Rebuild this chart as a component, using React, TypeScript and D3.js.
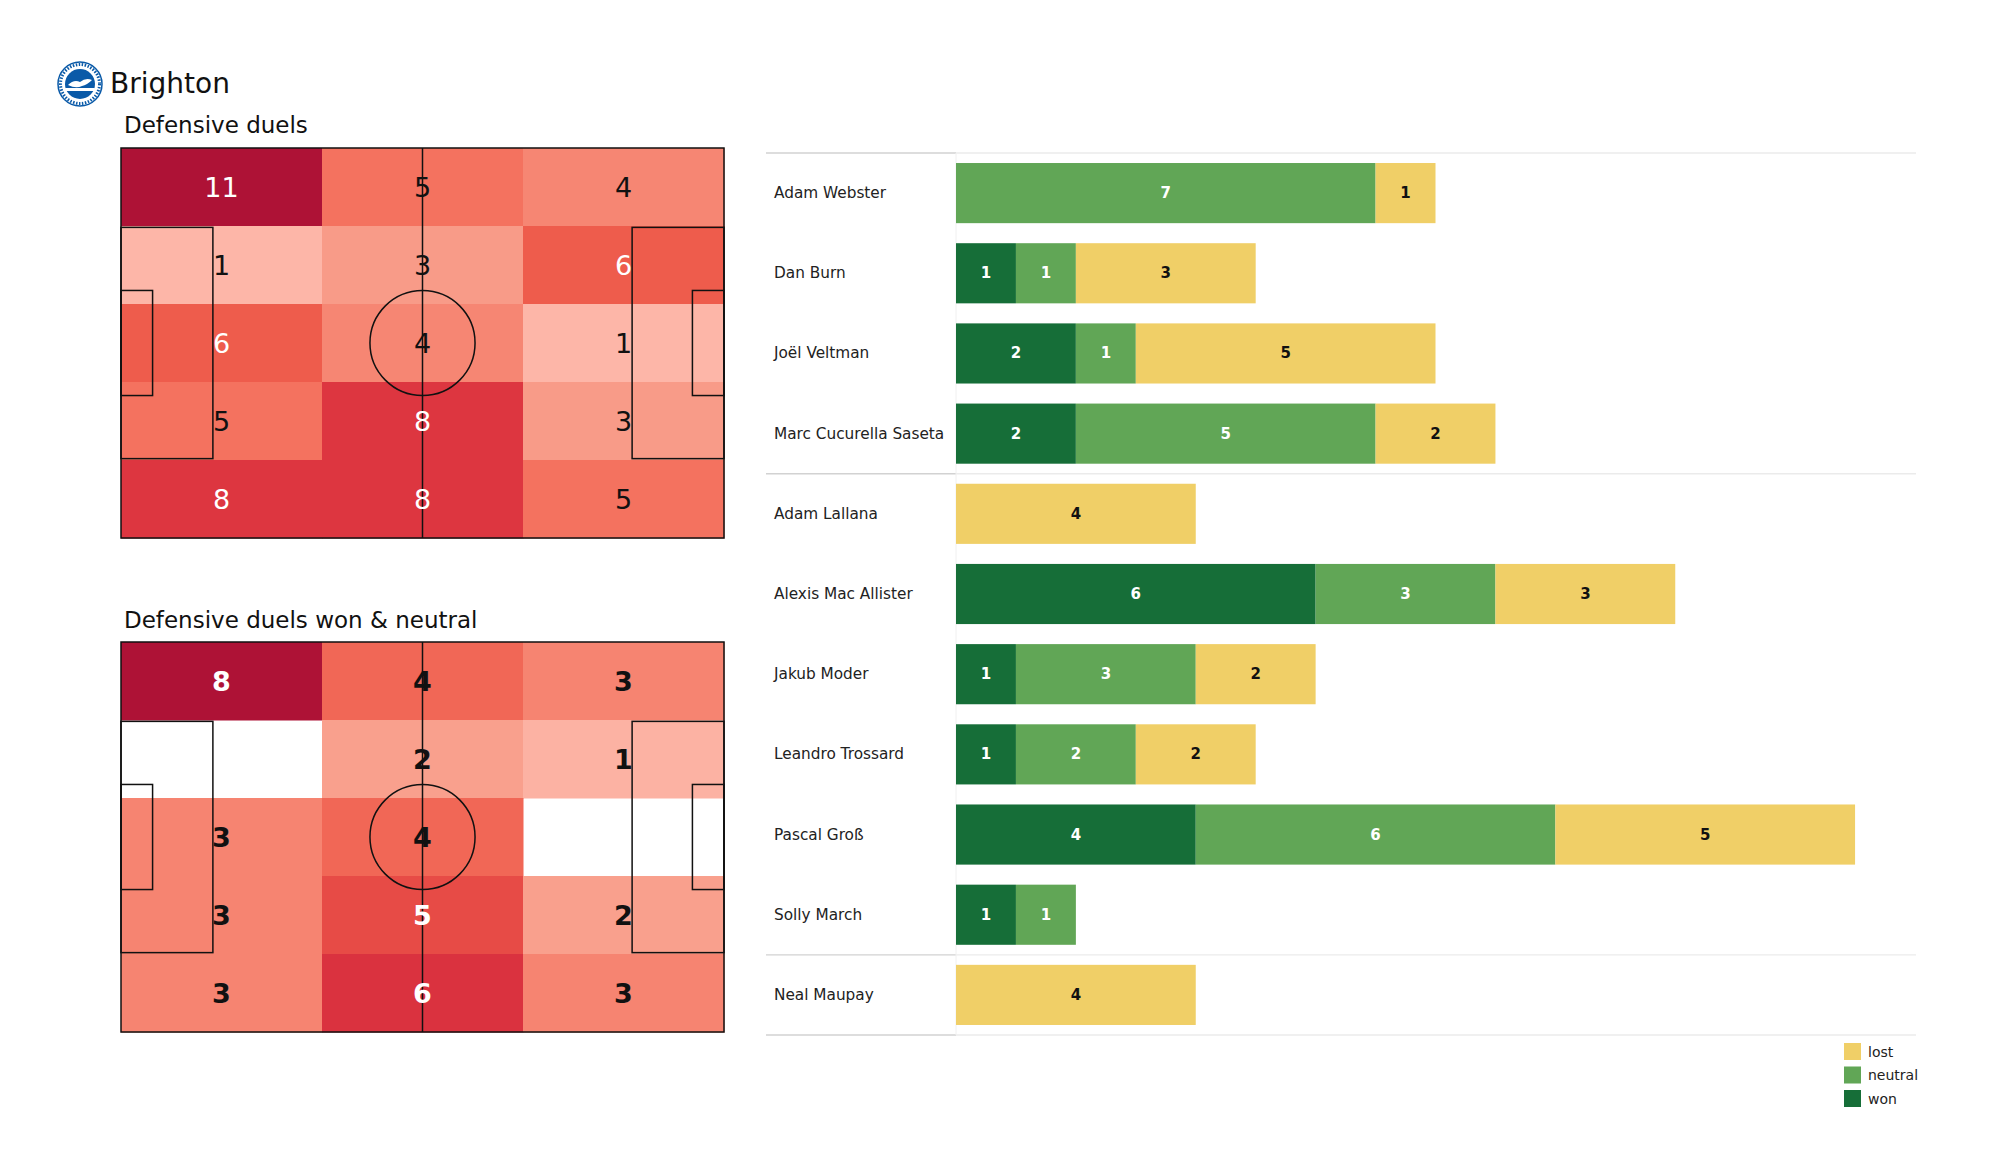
import * as d3 from 'd3';

// heatmap counts, rows top -> bottom, cols left -> right
const duelsGrid = [
  [11, 5, 4],
  [1, 3, 6],
  [6, 4, 1],
  [5, 8, 3],
  [8, 8, 5],
];
const wonNeutralGrid = [
  [8, 4, 3],
  [0, 2, 1],
  [3, 4, 0],
  [3, 5, 2],
  [3, 6, 3],
];

const players = [
  'Adam Webster',
  'Dan Burn',
  'Joël Veltman',
  'Marc Cucurella Saseta',
  'Adam Lallana',
  'Alexis Mac Allister',
  'Jakub Moder',
  'Leandro Trossard',
  'Pascal Groß',
  'Solly March',
  'Neal Maupay',
];
const won = [0, 1, 2, 2, 0, 6, 1, 1, 4, 1, 0];
const neutral = [7, 1, 1, 5, 0, 3, 3, 2, 6, 1, 0];
const lost = [1, 3, 5, 2, 4, 3, 2, 2, 5, 0, 4];
// index after which a group separator is drawn
const groupBreaks = [3, 9];

const series = ['won', 'neutral', 'lost'];
const legendOrder = ['lost', 'neutral', 'won'];

const FONT = '"DejaVu Sans", sans-serif';
const seriesColor: Record<string, string> = {
  won: '#166e38',
  neutral: '#61a656',
  lost: '#f0cf67',
};

const heatColor = d3
  .scaleLinear<string>()
  .domain([0, 0.25, 0.45, 0.55, 0.73, 1])
  .range(['#ffc3b8', '#f9a08d', '#f47360', '#ee5b4b', '#dd3540', '#ae1236'])
  .clamp(true);

const Pitch = ({ grid, top, bold }: { grid: number[][]; top: number; bold: boolean }) => {
  const x = d3.scaleLinear().domain([0, 105]).range([121, 724]);
  const y = d3.scaleLinear().domain([0, 68]).range([top, top + 390]);
  const col = d3.scaleBand<number>().domain([0, 1, 2]).range([121, 724]);
  const row = d3.scaleBand<number>().domain([0, 1, 2, 3, 4]).range([top, top + 390]);
  const max = d3.max(grid.flat()) || 1;
  const line = { fill: 'none', stroke: '#111', strokeWidth: 1.5 };
  const boxDepth = 16;

  return (
    <g>
      {grid.map((r, ri) =>
        r.map((v, ci) =>
          v > 0 ? (
            <rect
              key={`c${ri}-${ci}`}
              x={col(ci)}
              y={row(ri)}
              width={col.bandwidth() + 0.5}
              height={row.bandwidth() + 0.5}
              fill={heatColor(v / max)}
            />
          ) : null
        )
      )}
      {/* pitch markings */}
      <rect x={x(0)} y={y(0)} width={x(105) - x(0)} height={y(68) - y(0)} {...line} />
      <line x1={x(52.5)} x2={x(52.5)} y1={y(0)} y2={y(68)} {...line} />
      <ellipse cx={x(52.5)} cy={y(34)} rx={x(9.15) - x(0)} ry={y(9.15) - y(0)} {...line} />
      <rect x={x(0)} y={y(34 - 20.16)} width={x(boxDepth) - x(0)} height={y(40.32) - y(0)} {...line} />
      <rect x={x(105 - boxDepth)} y={y(34 - 20.16)} width={x(boxDepth) - x(0)} height={y(40.32) - y(0)} {...line} />
      <rect x={x(0)} y={y(34 - 9.16)} width={x(5.5) - x(0)} height={y(18.32) - y(0)} {...line} />
      <rect x={x(105 - 5.5)} y={y(34 - 9.16)} width={x(5.5) - x(0)} height={y(18.32) - y(0)} {...line} />
      {grid.map((r, ri) =>
        r.map((v, ci) =>
          v > 0 ? (
            <text
              key={`t${ri}-${ci}`}
              x={(col(ci) || 0) + col.bandwidth() / 2}
              y={(row(ri) || 0) + row.bandwidth() / 2}
              textAnchor="middle"
              dominantBaseline="central"
              fontFamily={FONT}
              fontSize={27}
              fontWeight={bold ? 'bold' : 'normal'}
              fill={v / max > 0.5 ? '#fff' : '#111'}
            >
              {v}
            </text>
          ) : null
        )
      )}
    </g>
  );
};

const BarChart = () => {
  const x = d3.scaleLinear().domain([0, 16]).range([956, 1915]);
  const yBand = d3
    .scaleBand<string>()
    .domain(players)
    .range([153, 1035])
    .paddingInner(0.25)
    .paddingOuter(0.125);
  const rows = players.map((p, i) => ({ player: p, won: won[i], neutral: neutral[i], lost: lost[i] }));
  const stacked = d3.stack<any>().keys(series)(rows);
  const step = yBand.step();
  const sepY = [153, ...groupBreaks.map((b) => 153 + (b + 1) * step), 1035];

  return (
    <g>
      {sepY.map((sy, i) => (
        <g key={`sep${i}`}>
          <line x1={766} x2={956} y1={sy} y2={sy} stroke="#d2d2d2" strokeWidth={1.3} />
          <line x1={956} x2={1916} y1={sy} y2={sy} stroke="#ebebeb" strokeWidth={1.3} />
        </g>
      ))}
      <line x1={956} x2={956} y1={153} y2={1035} stroke="#f0f0f0" strokeWidth={1} />
      {stacked.map((s) => (
        <g key={s.key}>
          {s.map((d, i) => {
            const v = d[1] - d[0];
            if (v <= 0) return null;
            const y0 = yBand(players[i]) || 0;
            return (
              <g key={i}>
                <rect
                  x={x(d[0])}
                  y={y0}
                  width={x(d[1]) - x(d[0])}
                  height={yBand.bandwidth()}
                  fill={seriesColor[s.key]}
                />
                <text
                  x={(x(d[0]) + x(d[1])) / 2}
                  y={y0 + yBand.bandwidth() / 2}
                  textAnchor="middle"
                  dominantBaseline="central"
                  fontFamily={FONT}
                  fontSize={15}
                  fontWeight="bold"
                  fill={s.key === 'lost' ? '#111' : '#fff'}
                >
                  {v}
                </text>
              </g>
            );
          })}
        </g>
      ))}
      {players.map((p) => (
        <text
          key={p}
          x={774}
          y={(yBand(p) || 0) + yBand.bandwidth() / 2}
          dominantBaseline="central"
          fontFamily={FONT}
          fontSize={15.3}
          fill="#222"
        >
          {p}
        </text>
      ))}
      {legendOrder.map((k, i) => (
        <g key={k} transform={`translate(1844,${1043 + i * 23.5})`}>
          <rect width={17} height={17} fill={seriesColor[k]} />
          <text x={24} y={8.5} dominantBaseline="central" fontFamily={FONT} fontSize={14} fill="#222">
            {k}
          </text>
        </g>
      ))}
    </g>
  );
};

const Crest = () => (
  <g transform="translate(80,84)">
    <circle r={22} fill="#fff" stroke="#0a5aa8" strokeWidth={1.5} />
    <circle r={19.5} fill="none" stroke="#0a5aa8" strokeWidth={3} strokeDasharray="1.5 1.5" />
    <circle r={15} fill="#0a5aa8" />
    <path d="M-12,1 Q-6,-5 0,-2 Q6,-7 12,-4 Q7,1 2,2 Q-4,5 -12,1 Z" fill="#fff" />
    <path d="M-15,4 L15,4 L14,7 L-14,7 Z" fill="#fff" />
  </g>
);

export default function App() {
  return (
    <div style={{ position: 'absolute', left: 0, top: 0 }}>
      <svg width={2000} height={1175} style={{ display: 'block', background: '#fff' }}>
        <Crest />
        <text x={110} y={93} fontFamily={FONT} fontSize={28} fill="#111">
          Brighton
        </text>
        <text x={124} y={133} fontFamily={FONT} fontSize={23} fill="#111">
          Defensive duels
        </text>
        <Pitch grid={duelsGrid} top={148} bold={false} />
        <text x={124} y={628} fontFamily={FONT} fontSize={23} fill="#111">
          Defensive duels won &amp; neutral
        </text>
        <Pitch grid={wonNeutralGrid} top={642} bold={true} />
        <BarChart />
      </svg>
    </div>
  );
}
